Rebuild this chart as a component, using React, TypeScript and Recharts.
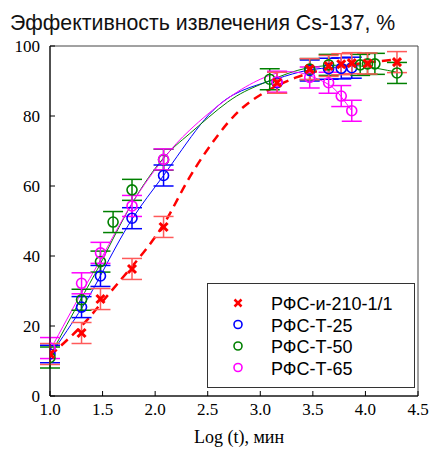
import React from 'react';
import { ComposedChart, Line, Scatter, XAxis, YAxis, ErrorBar, ReferenceArea, Legend } from 'recharts';

// Measured points (x = log t, y = efficiency %, e = error)
const redX = [1.0, 1.3, 1.48, 1.78, 2.08, 3.16, 3.47, 3.65, 3.77, 3.87, 4.02, 4.3];
const redY = [12, 18, 27.7, 36.3, 48.3, 89.5, 93.4, 94.3, 94.8, 95.1, 95.0, 95.4];
const redE = [3, 3, 3, 3, 3, 3, 3, 3, 3, 3, 3, 3];

const blueX = [1.0, 1.3, 1.48, 1.78, 2.08, 3.16, 3.47, 3.65, 3.77, 3.87];
const blueY = [12, 25.4, 34.3, 50.8, 63, 89.5, 93, 93.5, 93.6, 93.8];
const blueE = [2.5, 3, 3, 3, 3, 3, 3, 3, 3, 3];

const greenX = [1.0, 1.3, 1.48, 1.6, 1.78, 2.08, 3.09, 3.47, 3.65, 3.95, 4.02, 4.09, 4.3];
const greenY = [11, 27.5, 38.4, 49.7, 58.9, 67.5, 90.5, 93.4, 94.6, 94.6, 94.9, 94.9, 92.3];
const greenE = [3, 3, 3, 3, 3, 3, 3, 3, 3, 3, 3, 3, 3];

const magX = [1.0, 1.3, 1.48, 1.78, 2.08, 3.16, 3.47, 3.65, 3.77, 3.87];
const magY = [13.7, 32.2, 40.9, 54.3, 67.6, 89.8, 91, 89.5, 85.7, 81.5];
const magE = [3, 3, 3, 3, 3, 3, 3, 3, 3, 3];

// Fitted curves
const redFitX = [1.0, 1.3, 1.5, 1.78, 2.08, 2.33, 2.69, 3.0, 3.35, 3.7, 4.0, 4.3];
const redFitY = [11.5, 20, 27, 37, 49, 62.6, 78, 86, 91.1, 93.8, 95.2, 96.2];
const blueFitX = [1.0, 1.3, 1.5, 1.78, 2.08, 2.43, 2.74, 3.07, 3.38, 3.65, 3.9];
const blueFitY = [11.5, 25, 35.5, 50.5, 63, 77.5, 86, 89.8, 92.6, 93.8, 94.3];
const greenFitX = [1.0, 1.3, 1.5, 1.78, 2.08, 2.33, 2.69, 3.0, 3.35, 3.65, 3.95, 4.3];
const greenFitY = [11.5, 28, 39, 55, 68, 75, 84, 89, 93, 94.4, 94.3, 92.5];
const magFitX = [1.0, 1.3, 1.5, 1.78, 2.08, 2.33, 2.69, 3.0, 3.2, 3.35, 3.47, 3.65, 3.77, 3.87];
const magFitY = [13, 29.5, 40, 55, 67.8, 76, 85, 90.5, 92.5, 92.5, 91.5, 89, 85.5, 81.5];

const xTicks = [1.0, 1.5, 2.0, 2.5, 3.0, 3.5, 4.0, 4.5];
const yTicks = [0, 20, 40, 60, 80, 100];

const seriesNames = ['РФС-и-210-1/1', 'РФС-Т-25', 'РФС-Т-50', 'РФС-Т-65'];
const seriesColors = ['#ff0000', '#0000ff', '#008000', '#ff00ff'];

const pts = (xs: number[], ys: number[], es?: number[]) =>
  xs.map((x, i) => ({ x, y: ys[i], e: es ? es[i] : 0 }));

const serif = '"Liberation Serif", "Times New Roman", serif';
const sans = '"Liberation Sans", Arial, sans-serif';

const XTick = (props: any) => {
  const { x, y, payload } = props;
  return (
    <g>
      <line x1={x} y1={y} x2={x} y2={y - 5} stroke="#000" strokeWidth={1} />
      <text x={x} y={y + 19} textAnchor="middle" fontFamily={serif} fontSize={17} fill="#000">
        {Number(payload.value).toFixed(1)}
      </text>
    </g>
  );
};

const YTick = (props: any) => {
  const { x, y, payload } = props;
  return (
    <g>
      <line x1={x} y1={y} x2={x + 5} y2={y} stroke="#000" strokeWidth={1} />
      <text x={x - 10} y={y + 6} textAnchor="end" fontFamily={serif} fontSize={17} fill="#000">
        {payload.value}
      </text>
    </g>
  );
};

const Circ = (color: string, r = 5) => (props: any) => {
  const { cx, cy } = props;
  if (cx == null || cy == null) return null;
  return <circle cx={cx} cy={cy} r={r} fill="none" stroke={color} strokeWidth={1.6} />;
};

const Cross = (props: any) => {
  const { cx, cy } = props;
  if (cx == null || cy == null) return null;
  const s = 4;
  return (
    <g stroke="#ff0000" strokeWidth={3}>
      <line x1={cx - s} y1={cy - s} x2={cx + s} y2={cy + s} />
      <line x1={cx - s} y1={cy + s} x2={cx + s} y2={cy - s} />
    </g>
  );
};

const LegendBox = () => {
  const rowsY = [20, 41.5, 63, 84.5];
  return (
    <svg width={208} height={105} style={{ display: 'block' }}>
      <rect x={0.5} y={0.5} width={207} height={104} fill="#fff" stroke="#333" strokeWidth={1} />
      {seriesNames.map((n, i) => (
        <g key={n}>
          {i === 0 ? (
            <g stroke={seriesColors[0]} strokeWidth={2.5}>
              <line x1={31 - 3.5} y1={rowsY[i] - 3.5} x2={31 + 3.5} y2={rowsY[i] + 3.5} />
              <line x1={31 - 3.5} y1={rowsY[i] + 3.5} x2={31 + 3.5} y2={rowsY[i] - 3.5} />
            </g>
          ) : (
            <circle cx={31} cy={rowsY[i]} r={4} fill="none" stroke={seriesColors[i]} strokeWidth={1.6} />
          )}
          <text x={64} y={rowsY[i] + 7} fontFamily={sans} fontSize={18} fill="#000">
            {n}
          </text>
        </g>
      ))}
    </svg>
  );
};

export default function App() {
  return (
    <div style={{ position: 'absolute', left: 0, top: 0, width: 432, height: 450, background: '#fff' }}>
      <ComposedChart
        width={432}
        height={450}
        margin={{ top: 46, right: 14, bottom: 24, left: 10 }}
      >
        <XAxis
          type="number"
          dataKey="x"
          domain={[1, 4.5]}
          ticks={xTicks}
          allowDataOverflow
          axisLine={{ stroke: '#000', strokeWidth: 1 }}
          tickLine={false}
          tickSize={0}
          tickMargin={0}
          tick={<XTick />}
          height={30}
        />
        <YAxis
          type="number"
          dataKey="y"
          domain={[0, 100]}
          ticks={yTicks}
          allowDataOverflow
          axisLine={{ stroke: '#000', strokeWidth: 1 }}
          tickLine={false}
          tickSize={0}
          tickMargin={0}
          tick={<YTick />}
          width={40}
        />
        <ReferenceArea x1={1} x2={4.5} y1={0} y2={100} fill="none" stroke="#444" strokeWidth={1} />
        <Line data={pts(blueFitX, blueFitY)} dataKey="y" type="natural" stroke="#0000ff" strokeWidth={1} dot={false} isAnimationActive={false} legendType="none" />
        <Line data={pts(greenFitX, greenFitY)} dataKey="y" type="natural" stroke="#008000" strokeWidth={1} dot={false} isAnimationActive={false} legendType="none" />
        <Line data={pts(magFitX, magFitY)} dataKey="y" type="natural" stroke="#ff00ff" strokeWidth={1} dot={false} isAnimationActive={false} legendType="none" />
        <Line data={pts(redFitX, redFitY)} dataKey="y" type="natural" stroke="#ff0000" strokeWidth={2.5} strokeDasharray="9 6" dot={false} isAnimationActive={false} legendType="none" />
        <Scatter name={seriesNames[1]} data={pts(blueX, blueY, blueE)} dataKey="y" shape={Circ('#0000ff')} isAnimationActive={false}>
          <ErrorBar dataKey="e" direction="y" width={10} stroke="#0000ff" strokeWidth={1.5} />
        </Scatter>
        <Scatter name={seriesNames[2]} data={pts(greenX, greenY, greenE)} dataKey="y" shape={Circ('#008000')} isAnimationActive={false}>
          <ErrorBar dataKey="e" direction="y" width={10} stroke="#008000" strokeWidth={1.5} />
        </Scatter>
        <Scatter name={seriesNames[3]} data={pts(magX, magY, magE)} dataKey="y" shape={Circ('#ff00ff')} isAnimationActive={false}>
          <ErrorBar dataKey="e" direction="y" width={10} stroke="#ff00ff" strokeWidth={1.5} />
        </Scatter>
        <Scatter name={seriesNames[0]} data={pts(redX, redY, redE)} dataKey="y" shape={Cross} isAnimationActive={false}>
          <ErrorBar dataKey="e" direction="y" width={10} stroke="#ff5a5a" strokeWidth={1.5} />
        </Scatter>
        <Legend
          layout="vertical"
          align="center"
          verticalAlign="middle"
          content={() => <LegendBox />}
          wrapperStyle={{ position: 'absolute', left: 207, top: 283, width: 208, height: 105 }}
        />
      </ComposedChart>
      <svg width={432} height={450} style={{ position: 'absolute', left: 0, top: 0, pointerEvents: 'none' }}>
        <text x={10} y={30} fontFamily={sans} fontSize={21.3} fill="#111">
          Эффективность извлечения Cs-137, %
        </text>
        <text x={239} y={443} textAnchor="middle" fontFamily={serif} fontSize={18} fill="#000">
          Log (t), мин
        </text>
      </svg>
    </div>
  );
}
